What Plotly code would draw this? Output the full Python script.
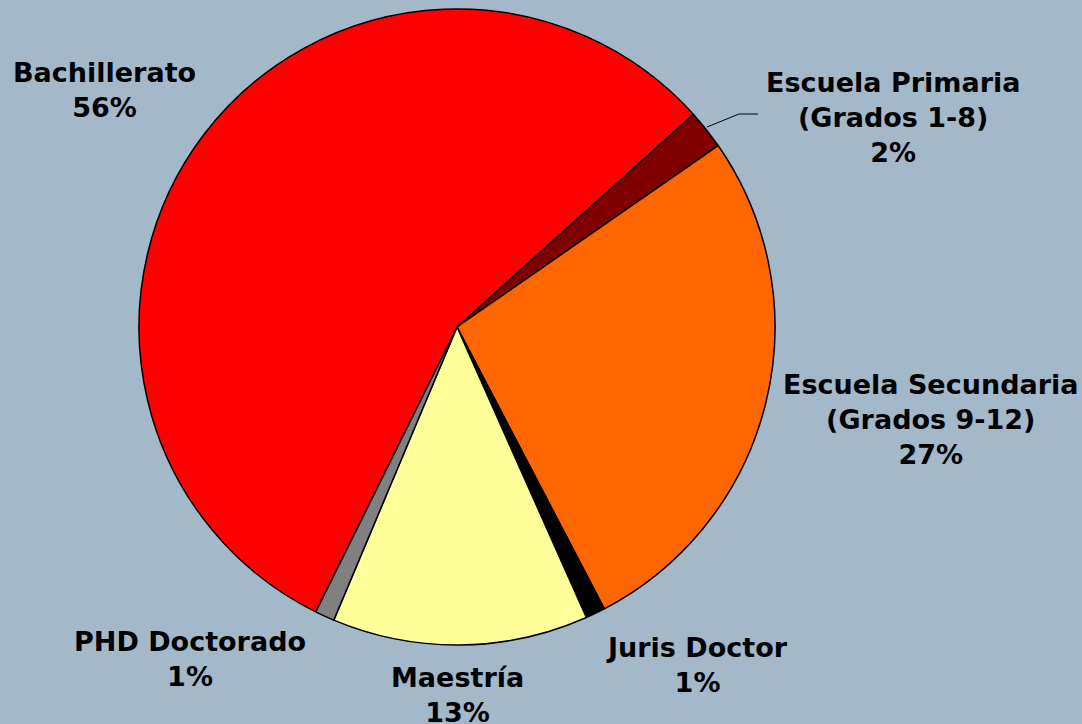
import plotly.graph_objects as go

labels = ["Escuela Primaria (Grados 1-8)", "Escuela Secundaria (Grados 9-12)", "Juris Doctor",
          "Maestría", "PHD Doctorado", "Bachillerato"]
label_text = ["Escuela Primaria<br>(Grados 1-8)", "Escuela Secundaria<br>(Grados 9-12)", "Juris Doctor",
              "Maestría", "PHD Doctorado", "Bachillerato"]
values = [2, 27, 1, 13, 1, 56]
colors = ["#800000", "#FF6600", "#000000", "#FFFF99", "#808080", "#FF0000"]

W, H = 1082, 724
cx, cy, r = 457, 327, 318

fig = go.Figure(go.Pie(
    labels=labels, values=values, sort=False, direction="clockwise", rotation=48,
    marker=dict(colors=colors, line=dict(color="black", width=1.5)),
    textinfo="none", hoverinfo="label+percent", showlegend=False,
    domain=dict(x=[(cx - r) / W, (cx + r) / W], y=[(H - cy - r) / H, (H - cy + r) / H]),
))

# label positions (pixel centers)
label_pos = [(893, 118), (930, 419), (697, 665), (457, 695), (190, 659), (105, 90)]
total = sum(values)
annotations = []
for txt, v, (px, py) in zip(label_text, values, label_pos):
    annotations.append(dict(
        text=f"{txt}<br>{round(100 * v / total)}%", x=px / W, y=1 - py / H,
        xref="paper", yref="paper", xanchor="center", yanchor="middle",
        showarrow=False, align="center",
        font=dict(family="DejaVu Sans", size=27, color="black", weight="bold"),
    ))

leader = dict(type="path", xref="paper", yref="paper",
              path=f"M {758/W} {1-114/H} L {739/W} {1-114/H} L {707/W} {1-127/H}",
              line=dict(color="black", width=1))

fig.update_layout(
    width=W, height=H, margin=dict(l=0, r=0, t=0, b=0),
    paper_bgcolor="#A3B9CA", plot_bgcolor="#A3B9CA",
    annotations=annotations, shapes=[leader],
)
fig.write_html("out.html", config={"displayModeBar": False},
               post_script="document.body.style.margin='0';document.body.style.overflow='hidden';")
